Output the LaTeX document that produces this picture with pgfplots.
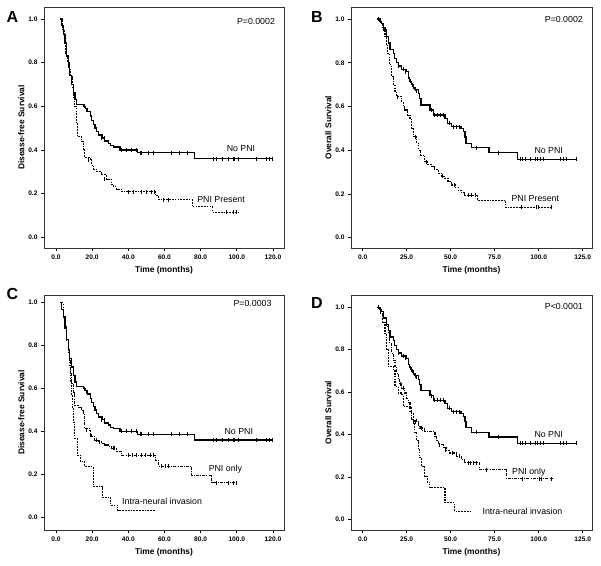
\documentclass[border=0pt]{standalone}
\usepackage{fontspec}
\setmainfont{Liberation Sans}
\usepackage{pgfplots}
\pgfplotsset{compat=1.18}

\tikzset{ann/.style={font=\fontsize{8.8}{10}\selectfont, anchor=center}}
\pgfplotsset{
  km/.style={
    scale only axis,
    axis line style={black!80, line width=0.8pt},
    tick align=outside,
    xtick pos=left, ytick pos=left,
    major tick length=3pt,
    tick style={black, line width=0.6pt},
    /pgf/number format/assume math mode=true,
    /pgf/number format/fixed,
    /pgf/number format/fixed zerofill,
    /pgf/number format/precision=1,
    ytick={0,0.2,0.4,0.6,0.8,1.0},
    tick label style={font=\bfseries\fontsize{6.6}{7}\selectfont},
    every axis x label/.style={at={(axis description cs:0.5,0)}, anchor=center, yshift=-22.7pt,
      font=\bfseries\fontsize{8.4}{9}\selectfont},
    every axis y label/.style={at={(axis description cs:-0.094,0.5)}, rotate=90, anchor=center,
      font=\bfseries\fontsize{8.4}{9}\selectfont},
    xlabel={Time (months)},
  },
  sA/.style={xtick={0,20,40,60,80,100,120}, xmin=-6.6, xmax=126.1},
  sB/.style={xtick={0,25,50,75,100,125}, xmin=-6.6, xmax=130.3},
  solidkm/.style={const plot, black, line width=1.3pt},
  dashkm/.style={const plot, black, line width=1.05pt, dash pattern=on 1.7pt off 1.1pt},
  dotkm/.style={const plot, black, line width=1.05pt, dash pattern=on 3pt off 1.2pt on 0.9pt off 1.2pt},
  cens/.style={only marks, black, mark=|, mark size=2pt, mark options={line width=0.7pt, solid}},
}

% Disease-free survival, No PNI (panels A and C)
\pgfplotstableread{
x y
2 1.0
3 0.97
4 0.93
5 0.89
6 0.83
6.8 0.78
7.6 0.74
8.5 0.70
9.6 0.66
10.5 0.63
11.4 0.609
15.1 0.60
16.5 0.59
17.5 0.575
19 0.555
19.7 0.535
20.6 0.515
21.6 0.50
22.5 0.485
23.4 0.468
25.5 0.455
27 0.44
28.9 0.43
30 0.42
31.7 0.413
35.4 0.40
45 0.387
76.7 0.36
120.2 0.36
}\dfsno

\pgfplotstableread{
x y
15.5 0.60
17 0.583
25 0.455
26.5 0.455
36.3 0.40
39 0.40
41.8 0.40
44.5 0.40
46.4 0.387
47.3 0.387
51 0.387
54.1 0.387
63.9 0.387
68.5 0.387
72.5 0.387
86.9 0.36
88.7 0.36
92 0.36
95.2 0.36
97.9 0.36
98.8 0.36
100.7 0.36
110.8 0.36
116.3 0.36
117.8 0.36
119.6 0.36
}\dfsnocens

% Overall survival, No PNI (panels B and D)
\pgfplotstableread{
x y
8 1.0
9.5 0.99
10.8 0.98
12 0.95
13.6 0.92
14.5 0.89
15.5 0.86
17.4 0.843
18.3 0.82
19.3 0.80
20.5 0.785
22.2 0.77
25 0.76
25.9 0.73
26.8 0.715
27.8 0.70
28.8 0.685
29.7 0.678
31.6 0.66
32.3 0.635
33.1 0.607
38.2 0.584
40.1 0.561
46.8 0.545
48.3 0.523
50.6 0.508
55.9 0.50
57.2 0.485
58.1 0.46
58.7 0.432
61.9 0.411
71.8 0.389
88 0.358
121.2 0.358
}\osno

\pgfplotstableread{
x y
9 1.0
10 0.99
20.5 0.785
23 0.77
24 0.76
27 0.715
28 0.70
29.7 0.678
30.5 0.67
39 0.584
41 0.561
42.5 0.561
44 0.561
46 0.561
49.5 0.523
51.5 0.508
53 0.508
55 0.508
64.8 0.411
77 0.389
89.4 0.358
90.7 0.358
92.2 0.358
95.1 0.358
97.9 0.358
99.4 0.358
100.7 0.358
102.6 0.358
112.1 0.358
114 0.358
115.9 0.358
121.2 0.358
}\osnocens

\begin{document}
\begin{tikzpicture}
\path[use as bounding box] (0pt,0pt) rectangle (601pt,565pt);

% ---------------- A ----------------
\begin{axis}[km, sA, at={(44pt,317pt)}, anchor=south west, width=240pt, height=241pt,
  ymin=-0.050, ymax=1.055, ylabel={Disease-free Survival}]
\addplot[solidkm] table {\dfsno};
\addplot[cens] table {\dfsnocens};
\addplot[dashkm] coordinates {(3,1.0) (3.8,0.95) (4.5,0.90) (5.5,0.84) (6.5,0.80) (7.3,0.77) (8.1,0.735)
  (9,0.68) (9.6,0.64) (10.5,0.60) (11.2,0.52) (11.8,0.46) (14.2,0.437) (15,0.40) (16,0.365) (19,0.355)
  (19.7,0.33) (21,0.31) (22.5,0.30) (25.2,0.285) (28,0.265) (30.8,0.24) (32,0.23) (33.6,0.22)
  (36.3,0.207) (55,0.19) (56.6,0.172) (75.3,0.139) (86.5,0.114) (100.8,0.114)};
\addplot[cens] coordinates {(18,0.355) (27,0.265) (39.9,0.207) (42.7,0.207) (47.3,0.207) (50.1,0.207)
  (52.9,0.207) (54.3,0.207) (59.3,0.172) (62.1,0.172) (94.2,0.114) (97.9,0.114) (99.8,0.114)};
\node[ann] at (axis cs:110.6,0.99) {P=0.0002};
\node[ann] at (axis cs:102.3,0.404) {No PNI};
\node[ann] at (axis cs:91.3,0.173) {PNI Present};
\end{axis}

% ---------------- B ----------------
\begin{axis}[km, sB, at={(351pt,317pt)}, anchor=south west, width=241pt, height=241pt,
  ymin=-0.047, ymax=1.055, ylabel={Overall Survival}]
\addplot[solidkm] table {\osno};
\addplot[cens] table {\osnocens};
\addplot[dashkm] coordinates {(8,1.0) (10,0.98) (11.5,0.96) (12.7,0.92) (13.5,0.88) (14.2,0.843)
  (15.3,0.79) (16.5,0.736) (17.5,0.70) (18.4,0.67) (19.3,0.645) (22.2,0.62) (23,0.60) (24,0.584)
  (25.5,0.56) (26.9,0.546) (27.8,0.50) (28.8,0.462) (30.7,0.432) (32,0.40) (33.1,0.378) (35.4,0.348)
  (37,0.335) (39.2,0.325) (41,0.31) (43,0.294) (45,0.28) (46.8,0.272) (48.5,0.255) (50.6,0.241)
  (52.5,0.23) (54.3,0.218) (56,0.205) (58.1,0.195) (65.5,0.172) (81.2,0.139) (107,0.139)};
\addplot[cens] coordinates {(20,0.645) (29.7,0.462) (36,0.348) (45.5,0.28) (52,0.241) (60,0.195)
  (62,0.195) (64,0.195) (90.3,0.139) (98.9,0.139) (99.8,0.139) (107,0.139)};
\node[ann] at (axis cs:114.3,1.0) {P=0.0002};
\node[ann] at (axis cs:105.7,0.398) {No PNI};
\node[ann] at (axis cs:98.1,0.181) {PNI Present};
\end{axis}

% ---------------- C ----------------
\begin{axis}[km, sA, at={(44pt,35pt)}, anchor=south west, width=240pt, height=235pt,
  ymin=-0.059, ymax=1.036, ylabel={Disease-free Survival}]
\addplot[solidkm] table {\dfsno};
\addplot[cens] table {\dfsnocens};
\addplot[dotkm] coordinates {(2,1.0) (3,0.97) (4,0.93) (5,0.89) (6,0.83) (6.8,0.78) (7.6,0.73)
  (8.2,0.67) (8.7,0.624) (9.5,0.58) (10.5,0.523) (12.5,0.51) (14.2,0.50) (15.1,0.485) (16,0.415)
  (18.4,0.405) (19.1,0.385) (19.7,0.376) (21.5,0.36) (23.4,0.352) (25,0.345) (27.1,0.337) (29,0.33)
  (30.8,0.322) (33.6,0.306) (36.3,0.29) (54.8,0.265) (56.6,0.239) (75,0.197) (86.1,0.161) (100.8,0.161)};
\addplot[cens] coordinates {(17,0.405) (19.3,0.385) (22.5,0.36) (24,0.352) (31.5,0.322) (32.5,0.322)
  (40,0.29) (42,0.29) (44.5,0.29) (47,0.29) (49.5,0.29) (52,0.29) (54,0.29) (58.5,0.239) (60.3,0.239)
  (62.1,0.239) (88.9,0.161) (95.3,0.161) (98.1,0.161) (99.6,0.161)};
\addplot[dashkm] coordinates {(3,1.0) (4,0.94) (5,0.88) (6,0.82) (6.8,0.77) (7.5,0.70) (8.1,0.632)
  (8.7,0.57) (9.2,0.508) (9.9,0.44) (10.5,0.368) (11.8,0.29) (13.6,0.259) (16,0.236) (20.6,0.143)
  (25.8,0.094) (30.2,0.057) (34.3,0.031) (54.5,0.031)};
\node[ann] at (axis cs:108.7,0.997) {P=0.0003};
\node[ann] at (axis cs:101.1,0.399) {No PNI};
\node[ann] at (axis cs:93.7,0.225) {PNI only};
\node[ann] at (axis cs:58.7,0.073) {Intra-neural invasion};
\end{axis}

% ---------------- D ----------------
\begin{axis}[km, sB, at={(351pt,35pt)}, anchor=south west, width=241pt, height=235pt,
  ymin=-0.05, ymax=1.058, ylabel={Overall Survival}]
\addplot[solidkm] table {\osno};
\addplot[cens] table {\osnocens};
\addplot[dotkm] coordinates {(8,1.0) (10,0.98) (12,0.95) (13.5,0.91) (14.5,0.878) (15.5,0.83)
  (16.5,0.784) (17.5,0.75) (18.4,0.72) (19.3,0.69) (20.2,0.658) (21.2,0.64) (22.2,0.619) (24,0.596)
  (25,0.57) (25.9,0.549) (26.9,0.51) (27.8,0.47) (30.7,0.46) (31.6,0.445) (32.6,0.431) (34,0.42)
  (35.4,0.415) (41.1,0.392) (42,0.37) (43,0.353) (45.8,0.337) (47.5,0.325) (49.6,0.313) (53.4,0.298)
  (56.2,0.282) (58.1,0.267) (66.6,0.235) (81.8,0.191) (107.4,0.191)};
\addplot[cens] coordinates {(9,1.0) (21.5,0.64) (23,0.619) (29,0.46) (30,0.46) (33.5,0.431) (35,0.42)
  (43.5,0.353) (47,0.325) (51,0.313) (55,0.298) (60,0.267) (61,0.267) (63,0.267) (64.5,0.267)
  (70,0.235) (91,0.191) (100.5,0.191) (101.5,0.191) (107.4,0.191)};
\addplot[dashkm] coordinates {(8,1.0) (10,0.97) (11.5,0.93) (12.7,0.878) (13.6,0.80) (14.5,0.72)
  (17.4,0.705) (18.4,0.627) (20.2,0.596) (22.2,0.588) (23.1,0.533) (27.5,0.50) (28.8,0.47)
  (29.7,0.408) (30.6,0.37) (31.6,0.329) (32.5,0.29) (33.5,0.251) (35.4,0.204) (36.8,0.175)
  (38.2,0.149) (46.8,0.078) (52.4,0.039) (61.9,0.039)};
\node[ann] at (axis cs:114.3,1.003) {P<0.0001};
\node[ann] at (axis cs:105.7,0.40) {No PNI};
\node[ann] at (axis cs:94.4,0.222) {PNI only};
\node[ann] at (axis cs:90.8,0.039) {Intra-neural invasion};
\end{axis}

% panel letters
\node[font=\bfseries\fontsize{16}{16}\selectfont] at (12.3pt,548.3pt) {A};
\node[font=\bfseries\fontsize{16}{16}\selectfont] at (317pt,548.3pt) {B};
\node[font=\bfseries\fontsize{16}{16}\selectfont] at (12.3pt,271pt) {C};
\node[font=\bfseries\fontsize{16}{16}\selectfont] at (317pt,262.3pt) {D};
\end{tikzpicture}
\end{document}
